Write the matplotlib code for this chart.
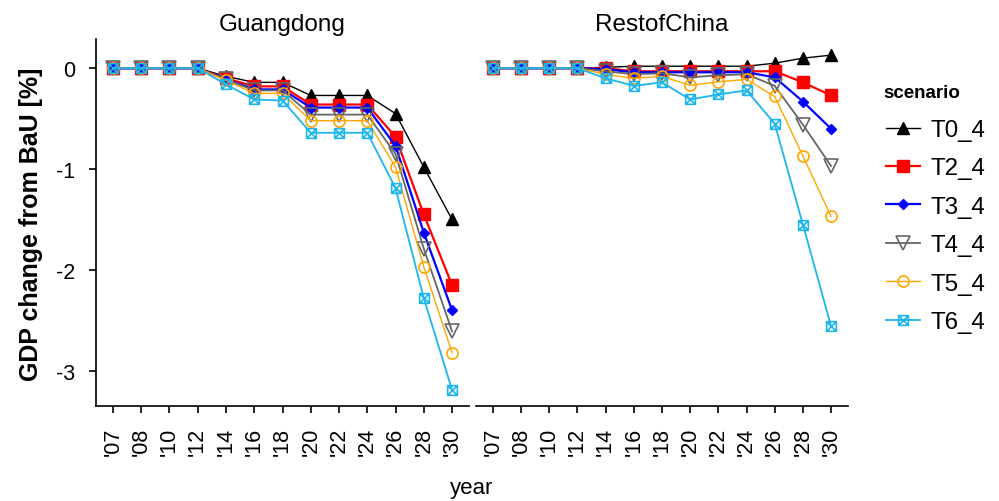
import numpy as np
import matplotlib
matplotlib.use("Agg")
import matplotlib.pyplot as plt
from matplotlib.path import Path

plt.rcParams['font.family'] = ['Liberation Sans', 'DejaVu Sans']

years = ["'07", "'08", "'10", "'12", "'14", "'16", "'18", "'20", "'22", "'24", "'26", "'28", "'30"]
scenarios = ["T0_4", "T2_4", "T3_4", "T4_4", "T5_4", "T6_4"]
regions = ["Guangdong", "RestofChina"]

# Guangdong
gd_T0 = [0, 0, 0, 0, -0.08, -0.14, -0.14, -0.27, -0.27, -0.27, -0.45, -0.98, -1.50]
gd_T2 = [0, 0, 0, 0, -0.10, -0.18, -0.18, -0.36, -0.36, -0.36, -0.68, -1.45, -2.15]
gd_T3 = [0, 0, 0, 0, -0.11, -0.21, -0.21, -0.39, -0.39, -0.39, -0.77, -1.63, -2.40]
gd_T4 = [0, 0, 0, 0, -0.11, -0.22, -0.22, -0.46, -0.46, -0.46, -0.85, -1.79, -2.61]
gd_T5 = [0, 0, 0, 0, -0.12, -0.25, -0.25, -0.52, -0.52, -0.52, -0.98, -1.97, -2.82]
gd_T6 = [0, 0, 0, 0, -0.16, -0.31, -0.32, -0.64, -0.64, -0.64, -1.19, -2.28, -3.19]

# Rest of China
rc_T0 = [0, 0, 0, 0, 0.01, 0.02, 0.02, 0.02, 0.02, 0.02, 0.05, 0.10, 0.13]
rc_T2 = [0, 0, 0, 0, 0.00, -0.03, -0.03, -0.03, -0.03, -0.03, -0.03, -0.14, -0.27]
rc_T3 = [0, 0, 0, 0, -0.01, -0.04, -0.04, -0.04, -0.04, -0.04, -0.09, -0.33, -0.60]
rc_T4 = [0, 0, 0, 0, -0.03, -0.06, -0.05, -0.09, -0.07, -0.06, -0.175, -0.56, -0.97]
rc_T5 = [0, 0, 0, 0, -0.06, -0.10, -0.08, -0.17, -0.135, -0.11, -0.28, -0.87, -1.47]
rc_T6 = [0, 0, 0, 0, -0.10, -0.175, -0.14, -0.31, -0.26, -0.22, -0.55, -1.55, -2.56]

data = {
    "Guangdong": [gd_T0, gd_T2, gd_T3, gd_T4, gd_T5, gd_T6],
    "RestofChina": [rc_T0, rc_T2, rc_T3, rc_T4, rc_T5, rc_T6],
}

colors = ['black', '#FF0000', '#0000FF', '#666666', '#FFA500', '#1CB5EC']

# square with a cross, like R's pch 7
box_x = Path([[-1, -1], [1, -1], [1, 1], [-1, 1], [-1, -1],
              [-1, -1], [1, 1], [-1, 1], [1, -1]],
             [Path.MOVETO, Path.LINETO, Path.LINETO, Path.LINETO, Path.CLOSEPOLY,
              Path.MOVETO, Path.LINETO, Path.MOVETO, Path.LINETO])

styles = [
    dict(marker='^', ms=9, mfc='black', mec='black'),
    dict(marker='s', ms=8, mfc='#FF0000', mec='#FF0000'),
    dict(marker='D', ms=5, mfc='#0000FF', mec='#0000FF'),
    dict(marker='v', ms=10, mfc='none', mec='#666666', mew=1.2),
    dict(marker='o', ms=8, mfc='none', mec='#FFA500', mew=1.2),
    dict(marker=box_x, ms=7, mfc='none', mec='#1CB5EC', mew=1.2),
]
lws = [1.0, 1.6, 1.6, 1.3, 1.0, 1.3]

W, H = 999, 502
fig = plt.figure(figsize=(W / 100, H / 100), dpi=100)
ax1 = fig.add_axes([96 / W, 1 - 407 / H, 373 / W, 367 / H])
ax2 = fig.add_axes([476 / W, 1 - 407 / H, 372 / W, 367 / H])

x = np.arange(len(years))
handles = []
for ax, reg in zip([ax1, ax2], regions):
    for i, vals in enumerate(data[reg]):
        h, = ax.plot(x, vals, color=colors[i], lw=lws[i], label=scenarios[i], **styles[i])
        if ax is ax1:
            handles.append(h)
    ax.set_xlim(-0.6, len(years) - 0.4)
    ax.set_ylim(-3.35, 0.29)
    ax.set_xticks(x)
    ax.set_xticklabels(years, rotation=90, fontsize=15.5)
    ax.set_title(reg, fontsize=17.5, pad=6.5)
    for s in ['top', 'right']:
        ax.spines[s].set_visible(False)
    ax.spines['bottom'].set_linewidth(1.2)
    ax.spines['left'].set_linewidth(1.2)
    ax.tick_params(axis='both', direction='out', length=5, width=1.2, labelsize=15.5,
                   colors='black', pad=10)

ax1.set_yticks([0, -1, -2, -3])
ax1.set_yticklabels(['0', '-1', '-2', '-3'])
ax2.spines['left'].set_visible(False)
ax2.set_yticks([])

fig.text(31.5 / W, 1 - 224 / H, 'GDP change from BaU [%]', fontsize=18, fontweight='bold',
         rotation=90, ha='center', va='center')
fig.text(472 / W, 1 - 489 / H, 'year', fontsize=16, ha='center', va='center')

# legend title placed on its own to get the ggplot spacing
fig.text(883 / W, 1 - 94 / H, 'scenario', fontsize=13.5, fontweight='bold', ha='left', va='center')
leg = fig.legend(handles=handles, loc='upper left', bbox_to_anchor=(886 / W, 1 - 120 / H),
                 frameon=False, fontsize=17.4, handlelength=1.4,
                 labelspacing=0.68, handletextpad=0.45, borderpad=0, borderaxespad=0)

fig.savefig('out.png', dpi=100)
